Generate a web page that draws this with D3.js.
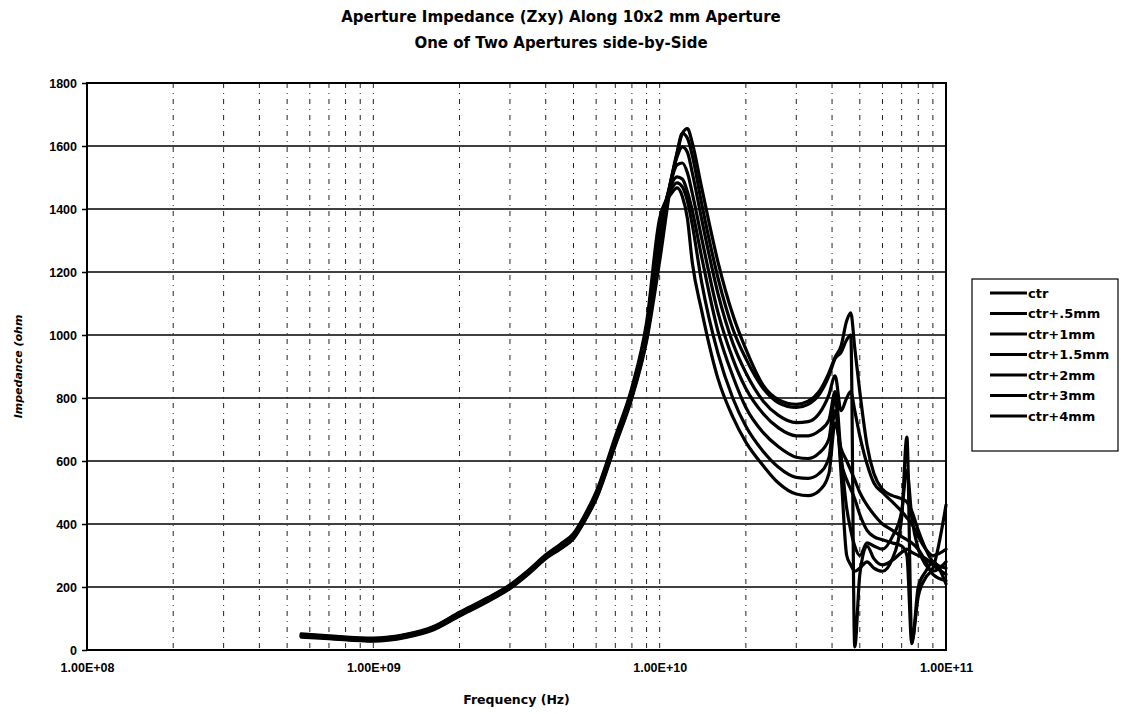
<!DOCTYPE html>
<html>
<head>
<meta charset="utf-8">
<script src="https://cdn.jsdelivr.net/npm/d3@7"></script>
<style>
  body { margin: 0; background: #fff; }
  svg { display: block; font-family: "DejaVu Sans", "Liberation Sans", Arial, sans-serif; }
  .title { font-size: 15px; font-weight: bold; }
  .tick-label { font-size: 12.5px; font-weight: bold; }
  .axis-title { font-size: 12.5px; font-weight: bold; }
  .legend-text { font-size: 13px; font-weight: bold; }
</style>
</head>
<body>
<div id="chart"></div>
<script>
// Aperture impedance along 10x2 mm aperture (log frequency axis)

const titleLines = ['Aperture Impedance (Zxy) Along 10x2 mm Aperture', 'One of Two Apertures side-by-Side'];
const seriesNames = ['ctr', 'ctr+.5mm', 'ctr+1mm', 'ctr+1.5mm', 'ctr+2mm', 'ctr+3mm', 'ctr+4mm'];
const yTicks = [0, 200, 400, 600, 800, 1000, 1200, 1400, 1600, 1800];
const xTicks = [1e8, 1e9, 1e10, 1e11];
const xTickLabels = ['1.00E+08', '1.00E+09', '1.00E+10', '1.00E+11'];

// frequency (Hz)
const freq = [5.6e8, 7e8, 1e9, 1.3e9, 1.6e9, 2e9, 2.5e9, 3e9, 3.5e9, 4e9,
  4.5e9, 5e9, 5.5e9, 6e9, 7e9, 8e9, 9e9, 1e10, 1.1e10, 1.15e10,
  1.2e10, 1.25e10, 1.3e10, 1.4e10, 1.6e10, 1.8e10, 2e10, 2.3e10, 2.6e10, 3e10,
  3.3e10, 3.6e10, 3.9e10, 4.1e10, 4.3e10, 4.5e10, 4.65e10, 4.8e10, 5e10, 5.3e10,
  5.6e10, 6e10, 6.5e10, 7e10, 7.3e10, 7.6e10, 8e10, 8.5e10, 9e10, 1e11];

// impedance (ohm), one array per position
const zCtr = [41, 36, 28, 40, 62, 108, 153, 195, 243, 290, 321, 353, 413, 479, 650, 800, 980,
  1235, 1490, 1575, 1640, 1655, 1610, 1470, 1230, 1065, 955, 840, 795, 780, 790,
  820, 880, 930, 965, 1045, 1070, 960, 820, 650, 560, 510, 490, 480, 470, 440, 380, 320, 280, 260];
const zCtr05 = [43, 38, 30, 42, 64, 110, 155, 197, 245, 292, 323, 356, 416, 482, 654, 805, 988,
  1260, 1500, 1580, 1640, 1625, 1570, 1420, 1180, 1020, 925, 830, 785, 770, 780,
  810, 870, 925, 945, 985, 1000, 10, 240, 330, 290, 270, 285, 310, 320, 310, 300, 290, 270, 240];
const zCtr1 = [44, 39, 31, 43, 65, 112, 157, 199, 247, 294, 325, 358, 419, 486, 658, 810, 996,
  1285, 1500, 1565, 1597, 1580, 1515, 1370, 1130, 975, 880, 790, 745, 722, 725,
  750, 810, 870, 760, 800, 820, 760, 680, 590, 530, 500, 470, 440, 420, 400, 360, 320, 300, 320];
const zCtr15 = [45, 40, 33, 45, 67, 114, 159, 201, 249, 296, 327, 361, 422, 489, 662, 815, 1005,
  1305, 1495, 1540, 1546, 1515, 1450, 1310, 1070, 925, 830, 750, 705, 680, 680,
  695, 730, 820, 620, 450, 380, 330, 300, 340, 330, 320, 360, 440, 570, 420, 320, 270, 250, 280];
const zCtr2 = [47, 42, 34, 46, 68, 116, 161, 203, 251, 298, 330, 364, 425, 493, 667, 821, 1015,
  1330, 1480, 1502, 1495, 1455, 1395, 1250, 1010, 870, 770, 690, 645, 612, 608,
  625, 670, 800, 560, 300, 270, 250, 260, 280, 260, 250, 290, 420, 676, 30, 170, 230, 260, 460];
const zCtr3 = [49, 43, 36, 48, 70, 118, 163, 205, 253, 300, 333, 367, 428, 497, 672, 827, 1025,
  1350, 1465, 1483, 1470, 1425, 1350, 1170, 940, 800, 710, 630, 580, 548, 545,
  560, 610, 760, 600, 540, 510, 480, 430, 380, 360, 350, 340, 330, 300, 20, 200, 250, 280, 210];
const zCtr4 = [51, 45, 38, 50, 72, 120, 165, 207, 255, 302, 336, 370, 432, 502, 678, 834, 1040,
  1370, 1450, 1467, 1440, 1370, 1230, 1080, 860, 740, 660, 585, 530, 495, 490,
  505, 560, 720, 640, 600, 570, 540, 500, 460, 430, 400, 380, 360, 350, 340, 320, 280, 240, 220];

const seriesValues = [zCtr, zCtr05, zCtr1, zCtr15, zCtr2, zCtr3, zCtr4];

const W = 1126, H = 714;
const margin = { top: 83, right: 180, bottom: 64, left: 87 };
const width = W - margin.left - margin.right;   // 859
const height = H - margin.top - margin.bottom;  // 567

const svg = d3.select('#chart').append('svg')
  .attr('width', W)
  .attr('height', H);

const g = svg.append('g')
  .attr('transform', `translate(${margin.left},${margin.top})`);

const x = d3.scaleLog().domain([1e8, 1e11]).range([0, width]);
const y = d3.scaleLinear().domain([0, 1800]).range([height, 0]);

// minor vertical gridlines (2..10 per decade)
const vGrid = [];
[1e8, 1e9, 1e10].forEach(d => {
  for (let k = 2; k <= 10; k++) vGrid.push(d * k);
});
g.selectAll('.vgrid')
  .data(vGrid.filter(v => v < 1e11))
  .enter().append('line')
  .attr('class', 'vgrid')
  .attr('x1', d => x(d)).attr('x2', d => x(d))
  .attr('y1', 0).attr('y2', height)
  .attr('stroke', '#222')
  .attr('stroke-width', 1)
  .attr('stroke-dasharray', '5,5,1,5');

// horizontal gridlines
g.selectAll('.hgrid')
  .data(yTicks.filter(d => d > 0 && d < 1800))
  .enter().append('line')
  .attr('class', 'hgrid')
  .attr('x1', 0).attr('x2', width)
  .attr('y1', d => y(d)).attr('y2', d => y(d))
  .attr('stroke', '#000')
  .attr('stroke-width', 1.6);

// plot border
g.append('rect')
  .attr('width', width)
  .attr('height', height)
  .attr('fill', 'none')
  .attr('stroke', '#000')
  .attr('stroke-width', 2);

// y axis
const yAxis = d3.axisLeft(y).tickValues(yTicks).tickSize(5).tickPadding(5)
  .tickFormat(d3.format('d'));
const yg = g.append('g').call(yAxis);
yg.select('.domain').remove();
yg.selectAll('line').attr('stroke-width', 1.5);
yg.selectAll('text').attr('class', 'tick-label').attr('fill', '#000');

// x axis
const xAxis = d3.axisBottom(x).tickValues(xTicks).tickSize(0).tickPadding(13)
  .tickFormat((d, i) => xTickLabels[i]);
const xg = g.append('g').attr('transform', `translate(0,${height})`).call(xAxis);
xg.select('.domain').remove();
xg.selectAll('text').attr('class', 'tick-label').attr('fill', '#000');

// series lines
const line = d3.line()
  .x((d, i) => x(freq[i]))
  .y(d => y(d))
  .curve(d3.curveMonotoneX);

g.selectAll('.series')
  .data(seriesValues)
  .enter().append('path')
  .attr('class', 'series')
  .attr('d', line)
  .attr('fill', 'none')
  .attr('stroke', '#000')
  .attr('stroke-width', 3.2)
  .attr('stroke-linejoin', 'round')
  .attr('stroke-linecap', 'round');

// titles
svg.selectAll('.title')
  .data(titleLines)
  .enter().append('text')
  .attr('class', 'title')
  .attr('x', 561)
  .attr('y', (d, i) => 22 + i * 26)
  .attr('text-anchor', 'middle')
  .text(d => d);

svg.append('text')
  .attr('class', 'axis-title')
  .attr('x', margin.left + width / 2)
  .attr('y', 704)
  .attr('text-anchor', 'middle')
  .text('Frequency (Hz)');

svg.append('text')
  .attr('class', 'axis-title')
  .attr('transform', `translate(22,${margin.top + height / 2}) rotate(-90)`)
  .attr('text-anchor', 'middle')
  .style('font-size', '11px')
  .style('font-style', 'italic')
  .text('Impedance (ohm');

// legend
const legend = svg.append('g').attr('transform', 'translate(972,279)');
legend.append('rect')
  .attr('width', 146)
  .attr('height', 172)
  .attr('fill', '#fff')
  .attr('stroke', '#000')
  .attr('stroke-width', 1.2);

const item = legend.selectAll('.legend-item')
  .data(seriesNames)
  .enter().append('g')
  .attr('class', 'legend-item')
  .attr('transform', (d, i) => `translate(0,${14 + i * 20.5})`);

item.append('line')
  .attr('x1', 18).attr('x2', 55)
  .attr('stroke', '#000')
  .attr('stroke-width', 3);

item.append('text')
  .attr('class', 'legend-text')
  .attr('x', 56)
  .attr('dy', '0.35em')
  .text(d => d);
</script>
</body>
</html>
